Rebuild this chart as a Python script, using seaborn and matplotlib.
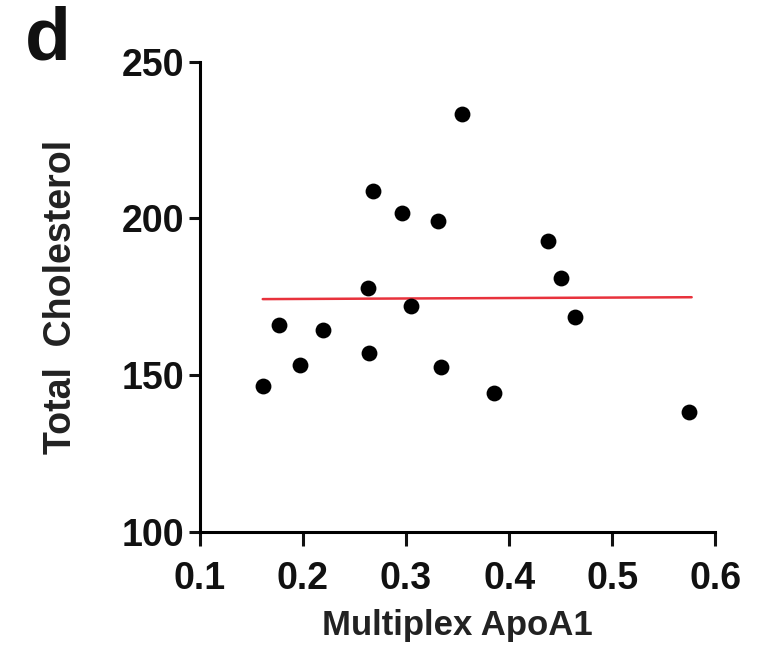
import matplotlib
matplotlib.use("Agg")
import matplotlib.pyplot as plt
import seaborn as sns
import pandas as pd

# === dados ===
apoa1 = [0.161, 0.177, 0.197, 0.219, 0.263, 0.264, 0.268, 0.296, 0.305,
         0.331, 0.334, 0.354, 0.385, 0.438, 0.450, 0.464, 0.574]
cholesterol = [146.7, 166.1, 153.2, 164.6, 178.0, 157.2, 208.7, 201.6, 172.0,
               199.1, 152.5, 233.2, 144.4, 192.9, 180.9, 168.5, 138.3]

# linha de regressão (extremos)
fit_x = [0.161, 0.577]
fit_y = [174.3, 174.9]

x_ticks = [0.1, 0.2, 0.3, 0.4, 0.5, 0.6]
y_ticks = [100, 150, 200, 250]

df = pd.DataFrame({"apoa1": apoa1, "chol": cholesterol})
df_fit = pd.DataFrame({"x": fit_x, "y": fit_y})

sns.set_style("ticks")
plt.rcParams["font.family"] = ["Liberation Sans", "DejaVu Sans"]
plt.rcParams["font.weight"] = "bold"

fig = plt.figure(figsize=(7.57, 6.49), dpi=100)
ax = fig.add_axes([0.264, 0.18, 0.681, 0.725])

sns.lineplot(data=df_fit, x="x", y="y", color="#e8323c", linewidth=1.8, ax=ax)
sns.scatterplot(data=df, x="apoa1", y="chol", color="black", s=130,
                edgecolor="black", linewidth=0, ax=ax, zorder=3)

ax.set_xlim(0.1, 0.6)
ax.set_ylim(100, 250)
ax.set_xticks(x_ticks)
ax.set_yticks(y_ticks)
ax.set_xticklabels([f"{v:.1f}" for v in x_ticks])
ax.set_yticklabels([str(v) for v in y_ticks])
ax.tick_params(axis="both", labelsize=27, width=2.2, direction="out",
               colors="#111111")
ax.tick_params(axis="x", length=10, pad=11)
ax.tick_params(axis="y", length=8, pad=3)
for lbl in ax.get_xticklabels() + ax.get_yticklabels():
    lbl.set_fontweight("bold")

sns.despine(ax=ax)
for side in ["left", "bottom"]:
    ax.spines[side].set_linewidth(2.2)
    ax.spines[side].set_color("black")

ax.set_xlabel("Multiplex ApoA1", fontsize=25, fontweight="bold", color="#222222")
ax.xaxis.set_label_coords(0.5, -0.164)
ax.set_ylabel("Total  Cholesterol", fontsize=27, fontweight="bold", color="#222222")
ax.yaxis.set_label_coords(-0.235, 0.5)

fig.text(0.033, 0.885, "d", fontsize=54, fontweight="bold", ha="left", va="bottom",
         color="#111111")

fig.savefig("out.png", dpi=100)
